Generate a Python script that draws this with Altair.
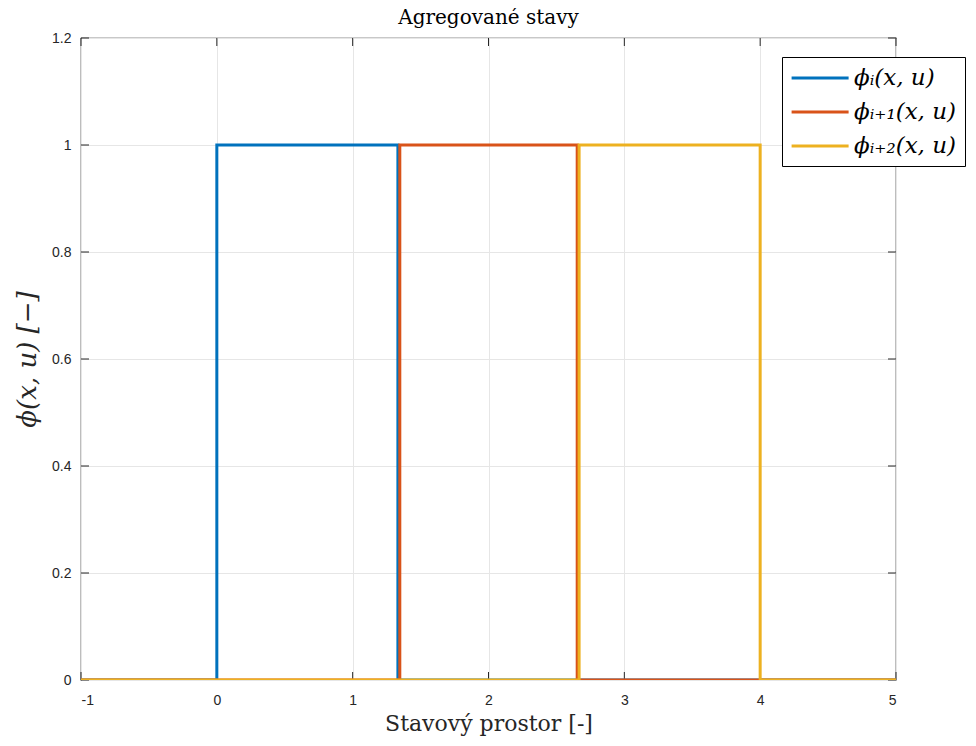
import altair as alt
import pandas as pd

# ---- data ----
series_names = ["ϕᵢ(x, u)", "ϕᵢ₊₁(x, u)", "ϕᵢ₊₂(x, u)"]
series_colors = ["#0072BD", "#D95319", "#EDB120"]

blue_x = [-1, 0, 0, 1.333, 1.333, 5]
blue_y = [0, 0, 1, 1, 0, 0]
red_x = [-1, 1.347, 1.347, 2.653, 2.653, 5]
red_y = [0, 0, 1, 1, 0, 0]
yellow_x = [-1, 2.667, 2.667, 4, 4, 5]
yellow_y = [0, 0, 1, 1, 0, 0]

x_ticks = [-1, 0, 1, 2, 3, 4, 5]
y_ticks = [0, 0.2, 0.4, 0.6, 0.8, 1.0, 1.2]

W, H = 815, 642
AX = "#262626"
SERIF = "DejaVu Serif"

xs = alt.Scale(domain=[-1, 5], nice=False, zero=False)
ys = alt.Scale(domain=[0, 1.2], nice=False, zero=False)
cs = alt.Scale(domain=series_names, range=series_colors)


def series_df(name, xv, yv):
    return pd.DataFrame({"x": xv, "y": yv, "s": name, "o": list(range(len(xv)))})


def line_layer(df, legend):
    return alt.Chart(df).mark_line(strokeWidth=3, strokeCap="butt", strokeJoin="miter", clip=True).encode(
        x=alt.X("x:Q", scale=xs,
                axis=alt.Axis(values=x_ticks, title="Stavový prostor [-]",
                              labelExpr="'' + datum.value", grid=True, ticks=False,
                              domain=False, labelPadding=13, titlePadding=6)),
        y=alt.Y("y:Q", scale=ys,
                axis=alt.Axis(values=y_ticks, title="ϕ(x, u) [−]", format="~g",
                              grid=True, ticks=False, domain=False, labelPadding=10,
                              titlePadding=11)),
        order="o:Q",
        color=alt.Color("s:N", scale=cs, legend=legend),
    )


legend = alt.Legend(
    title=None, orient="none", legendX=701, legendY=19,
    symbolType="M-1,0H4", symbolSize=520, symbolStrokeWidth=3,
    labelFont=SERIF, labelFontSize=23, labelFontStyle="italic",
    labelColor="black", fillColor="white", strokeColor="black",
    padding=8, rowPadding=9, labelOffset=38, labelLimit=300,
)

l_blue = line_layer(series_df(series_names[0], blue_x, blue_y), legend)
l_red = line_layer(series_df(series_names[1], red_x, red_y), legend)
l_yel = line_layer(series_df(series_names[2], yellow_x, yellow_y), legend)

xt = pd.DataFrame({"v": x_ticks})
yt = pd.DataFrame({"v": y_ticks})

tick_bottom = alt.Chart(xt).mark_rule(color=AX, strokeWidth=1).encode(
    x=alt.X("v:Q", scale=xs), y=alt.value(H), y2=alt.value(H - 8))
tick_top = alt.Chart(xt).mark_rule(color=AX, strokeWidth=1).encode(
    x=alt.X("v:Q", scale=xs), y=alt.value(0), y2=alt.value(8))
tick_left = alt.Chart(yt).mark_rule(color=AX, strokeWidth=1).encode(
    y=alt.Y("v:Q", scale=ys), x=alt.value(0), x2=alt.value(8))
tick_right = alt.Chart(yt).mark_rule(color=AX, strokeWidth=1).encode(
    y=alt.Y("v:Q", scale=ys), x=alt.value(W), x2=alt.value(W - 8))

chart = alt.layer(tick_bottom, tick_top, tick_left, tick_right, l_blue, l_red, l_yel).properties(
    width=W, height=H,
    title=alt.TitleParams("Agregované stavy", font=SERIF, fontSize=20,
                          fontWeight="normal", color="black", offset=3),
    autosize=alt.AutoSizeParams(type="none"),
    padding={"left": 73, "top": 30, "right": 72, "bottom": 58},
).configure_view(
    stroke=AX, strokeWidth=1.2
).configure_axis(
    labelFont="Liberation Sans", labelFontSize=14, labelColor=AX,
    titleFont=SERIF, titleFontSize=22, titleFontWeight="normal", titleColor=AX,
    gridColor="#e6e6e6", gridOpacity=1, gridWidth=1,
).configure_axisY(
    titleFontStyle="italic", titleFontSize=26
)

chart.save("out.html", embed_options={"renderer": "svg", "actions": False})
